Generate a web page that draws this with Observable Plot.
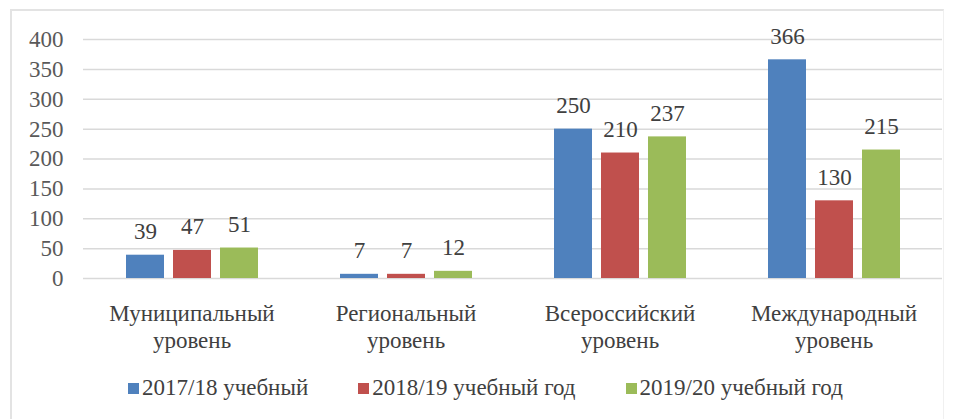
<!DOCTYPE html>
<html>
<head>
<meta charset="utf-8">
<script src="https://cdn.jsdelivr.net/npm/d3@7"></script>
<script src="https://cdn.jsdelivr.net/npm/@observablehq/plot@0.6"></script>
<style>
  html, body { margin: 0; padding: 0; background: #fff; }
  #wrap { position: relative; width: 957px; height: 419px; overflow: hidden; font-family: "Times New Roman", Times, Tinos, "Liberation Serif", "DejaVu Serif", "Noto Serif", serif; }
  #frame { position: absolute; left: 10px; top: 9px; width: 934px; height: 420px; border-left: 2px solid #e3e3e3; border-top: 2px solid #e3e3e3; border-right: 1px solid #f0f0f0; box-sizing: border-box; }
  .layer { position: absolute; left: 0; top: 0; }
  #legend { position: absolute; left: 128px; top: 374px; display: flex; gap: 50px; font-size: 23px; color: #404040; line-height: 28px; white-space: nowrap; }
  #legend .item { display: flex; align-items: center; }
  #legend .sw { width: 11px; height: 11px; margin-right: 3px; margin-top: 1px; }
</style>
</head>
<body>
<div id="wrap">
  <div id="frame"></div>
  <div id="bg" class="layer"></div>
  <div id="fg" class="layer"></div>
  <div id="legend"></div>
</div>
<script>
const categories = ["Муниципальный\nуровень", "Региональный\nуровень", "Всероссийский\nуровень", "Международный\nуровень"];
const seriesNames = ["2017/18 учебный", "2018/19 учебный год", "2019/20 учебный год"];
const values2017 = [39, 7, 250, 366];
const values2018 = [47, 7, 210, 130];
const values2019 = [51, 12, 237, 215];
const yTicks = [0, 50, 100, 150, 200, 250, 300, 350, 400];
const colors = ["#4F81BD", "#C0504D", "#9BBB59"];

const seriesValues = [values2017, values2018, values2019];
const data = [];
categories.forEach((c, i) => {
  seriesNames.forEach((s, j) => data.push({category: c, series: s, value: seriesValues[j][i]}));
});

const FONT = "\"Times New Roman\", Times, Tinos, \"Liberation Serif\", \"DejaVu Serif\", \"Noto Serif\", serif";
const common = {
  width: 957,
  height: 360,
  marginLeft: 83,
  marginRight: 15,
  marginTop: 39,
  marginBottom: 82,
  style: {fontFamily: FONT, background: "transparent", overflow: "visible"}
};

// Background: continuous gridlines + y axis
const bg = Plot.plot({
  ...common,
  x: {type: "band", domain: categories, axis: null},
  y: {domain: [0, 400], axis: null},
  marks: [
    Plot.ruleY(yTicks, {stroke: "#d9d9d9", strokeWidth: 1.5}),
    Plot.axisY(yTicks, {tickSize: 0, tickPadding: 20, fontSize: 23, fill: "#595959", fontFamily: FONT})
  ]
});
document.getElementById("bg").appendChild(bg);

// Foreground: grouped bars
const fg = Plot.plot({
  ...common,
  fx: {domain: categories, paddingInner: 0.38, paddingOuter: 0.19, label: null, axis: null},
  x: {domain: seriesNames, paddingInner: 0.2, paddingOuter: 0, axis: null},
  y: {domain: [0, 400], axis: null},
  color: {domain: seriesNames, range: colors},
  marks: [
    Plot.axisFx({anchor: "bottom", tickSize: 0, tickPadding: 23, fontSize: 23, fill: "#404040", lineHeight: 1.17, label: null, fontFamily: FONT}),
    Plot.barY(data, {fx: "category", x: "series", y: "value", fill: "series"}),
    Plot.text(data, {fx: "category", x: "series", y: "value", text: d => String(d.value), lineAnchor: "bottom", dy: -16, fontSize: 23, fill: "#404040", fontFamily: FONT})
  ]
});
document.getElementById("fg").appendChild(fg);

// Legend
const legend = document.getElementById("legend");
seriesNames.forEach((s, i) => {
  const item = document.createElement("div");
  item.className = "item";
  const sw = document.createElement("span");
  sw.className = "sw";
  sw.style.background = colors[i];
  const t = document.createElement("span");
  t.textContent = s;
  item.appendChild(sw);
  item.appendChild(t);
  legend.appendChild(item);
});
</script>
</body>
</html>
